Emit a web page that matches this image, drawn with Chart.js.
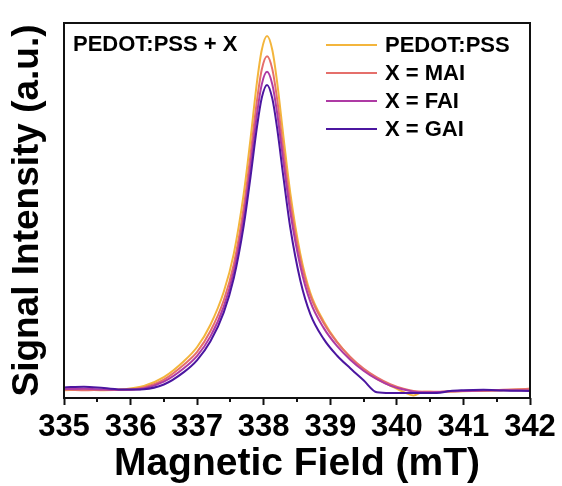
<!DOCTYPE html>
<html><head><meta charset="utf-8">
<script src="https://cdn.jsdelivr.net/npm/chart.js@4/dist/chart.umd.min.js"></script>
<style>html,body{margin:0;padding:0;background:#fff;} #wrap{width:562px;height:486px;}</style>
</head><body><div id="wrap"><canvas id="c" width="562" height="486"></canvas></div>
<script>
const field = [335.0, 335.3, 335.6, 335.9, 336.2, 336.5, 336.8, 337.0, 337.2, 337.4, 337.55, 337.7, 337.8, 337.9, 337.97, 338.05, 338.13, 338.2, 338.3, 338.4, 338.55, 338.7, 338.9, 339.1, 339.3, 339.5, 339.7, 339.9, 340.1, 340.25, 340.4, 340.6, 340.8, 341.0, 341.3, 341.6, 342.0];
const pedot = [0.000, 0.001, 0.000, 0.003, 0.012, 0.037, 0.082, 0.122, 0.185, 0.278, 0.385, 0.555, 0.707, 0.872, 0.96, 1.0, 0.96, 0.872, 0.71, 0.556, 0.385, 0.275, 0.195, 0.137, 0.093, 0.058, 0.032, 0.013, -0.005, -0.015, -0.004, -0.005, -0.004, -0.003, -0.002, 0.000, 0.004];
const mai = [0.002, 0.000, 0.001, 0.001, 0.008, 0.030, 0.072, 0.108, 0.167, 0.254, 0.355, 0.516, 0.662, 0.82, 0.905, 0.943, 0.906, 0.824, 0.672, 0.528, 0.37, 0.267, 0.19, 0.136, 0.094, 0.061, 0.036, 0.017, 0.004, -0.002, -0.004, -0.004, -0.003, -0.002, -0.001, 0.001, 0.004];
const fai = [0.003, 0.004, 0.002, 0.001, 0.005, 0.024, 0.062, 0.097, 0.152, 0.236, 0.335, 0.49, 0.63, 0.782, 0.863, 0.899, 0.863, 0.785, 0.64, 0.502, 0.35, 0.25, 0.176, 0.125, 0.086, 0.055, 0.031, 0.013, 0.002, -0.004, -0.006, -0.005, -0.003, -0.002, -0.001, 0.000, -0.001];
const gai = [0.008, 0.010, 0.006, 0.002, 0.003, 0.016, 0.051, 0.085, 0.138, 0.22, 0.316, 0.465, 0.6, 0.745, 0.825, 0.862, 0.823, 0.742, 0.596, 0.458, 0.31, 0.215, 0.145, 0.098, 0.062, 0.028, -0.006, -0.008, -0.008, -0.008, -0.008, -0.008, -0.002, 0.000, 0.001, -0.001, -0.002];
const seriesLabels = ['PEDOT:PSS', 'X = MAI', 'X = FAI', 'X = GAI'];
const seriesColors = ['#F3B53C', '#E56F6B', '#AE3AA4', '#4B16A0'];
const xTickLabels = ['335', '336', '337', '338', '339', '340', '341', '342'];

const FONT = "'Liberation Sans', Arial, sans-serif";
const allSeries = [pedot, mai, fai, gai];
const datasets = allSeries.map((vals, i) => ({
  label: seriesLabels[i],
  data: field.map((x, j) => ({x: x, y: vals[j]})),
  borderColor: seriesColors[i],
  borderWidth: 2,
  pointRadius: 0,
  fill: false,
  cubicInterpolationMode: 'monotone',
  order: 3 - i
}));

const framePlugin = {
  id: 'frame',
  afterDraw(chart) {
    const {ctx, chartArea: a, scales} = chart;
    ctx.save();
    const xs = scales.x;
    ctx.strokeStyle = '#111';
    ctx.lineWidth = 2;
    for (let v = xs.min + 0.5; v < xs.max; v += 1) {
      const px = Math.round(xs.getPixelForValue(v));
      ctx.beginPath(); ctx.moveTo(px, a.bottom); ctx.lineTo(px, a.bottom + 4); ctx.stroke();
    }
    ctx.strokeRect(a.left, a.top, a.right - a.left, a.bottom - a.top);
    ctx.fillStyle = '#000';
    ctx.font = "bold 22px " + FONT;
    ctx.textBaseline = 'middle';
    ctx.textAlign = 'left';
    ctx.fillText('PEDOT:PSS + X', a.left + 9, a.top + 22);
    chart.data.datasets.forEach((ds, i) => {
      const y = a.top + 22 + i * 28;
      ctx.strokeStyle = ds.borderColor;
      ctx.lineWidth = 2;
      ctx.beginPath(); ctx.moveTo(a.right - 204, y); ctx.lineTo(a.right - 153, y); ctx.stroke();
      ctx.fillStyle = '#000';
      ctx.fillText(ds.label, a.right - 145, y + 1);
    });
    ctx.restore();
  }
};

new Chart(document.getElementById('c'), {
  type: 'line',
  data: {datasets},
  options: {
    responsive: false,
    animation: false,
    devicePixelRatio: 1,
    layout: {padding: {top: 23, right: 32, left: 0, bottom: 0}},
    plugins: {legend: {display: false}, tooltip: {enabled: false}},
    scales: {
      x: {
        type: 'linear', min: 335, max: 342,
        afterFit: s => { s.height = 88; },
        ticks: {
          stepSize: 1, color: '#000', padding: 4,
          font: {family: FONT, size: 31, weight: 'bold'},
          maxRotation: 0,
          callback: (v) => { const i = Math.round(v - 335); return (Math.abs(v - Math.round(v)) < 1e-6 && xTickLabels[i]) ? xTickLabels[i] : ''; }
        },
        grid: {display: true, drawOnChartArea: false, drawTicks: true, tickLength: 7, tickWidth: 2, tickColor: '#111'},
        border: {display: false},
        title: {display: true, text: 'Magnetic Field (mT)', color: '#000',
          font: {family: FONT, size: 39, weight: 'bold', lineHeight: 1.1}, padding: {top: 0, bottom: 0}}
      },
      y: {
        min: -0.022, max: 1.037,
        afterFit: s => { s.width = 64; },
        ticks: {display: false},
        grid: {display: false},
        border: {display: false},
        title: {display: true, text: 'Signal Intensity (a.u.)', color: '#000',
          font: {family: FONT, size: 37, weight: 'bold', lineHeight: 1.2}, padding: {top: 6, bottom: 0}}
      }
    }
  },
  plugins: [framePlugin]
});
</script>
</body></html>
